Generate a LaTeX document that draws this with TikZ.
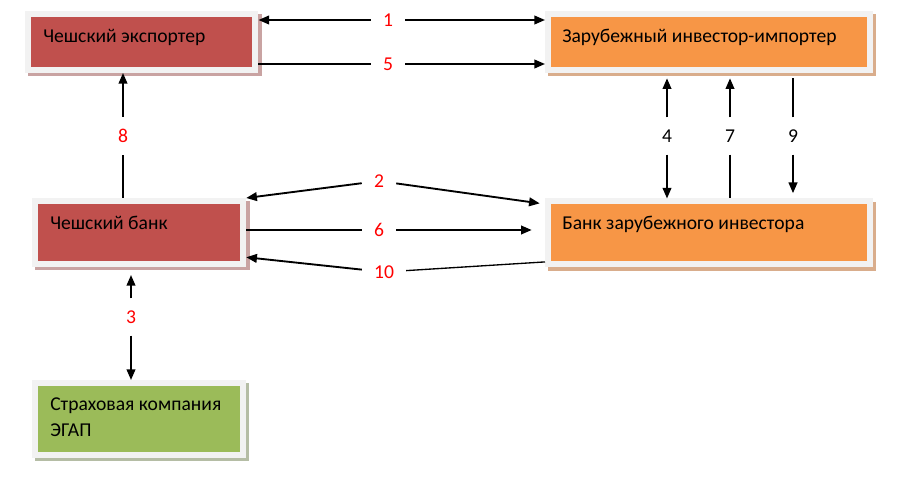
\documentclass[tikz,border=0pt]{standalone}
\usepackage{fontspec}
\setmainfont{Carlito}
\usetikzlibrary{arrows.meta,shadows}
\definecolor{boxred}{HTML}{C0504D}
\definecolor{boxorange}{HTML}{F79646}
\definecolor{boxgreen}{HTML}{9BBB59}
\definecolor{boxframe}{HTML}{F2F2F2}
\definecolor{shred}{HTML}{C9A3A2}
\definecolor{shorange}{HTML}{D9AD8C}
\definecolor{shgreen}{HTML}{B5BDA5}
\begin{document}
\begin{tikzpicture}[x=0.75pt,y=-0.75pt,
    boxshadow/.style={drop shadow={shadow xshift=2.5pt,shadow yshift=-2.5pt,fill=#1,draw=#1,opacity=1}},
    box/.style={draw=boxframe,line width=4.5pt,inner sep=0pt},
    redbox/.style={box,fill=boxred,boxshadow=shred},
    orangebox/.style={box,fill=boxorange,boxshadow=shorange},
    greenbox/.style={box,fill=boxgreen,boxshadow=shgreen},
    boxtext/.style={anchor=base west,inner sep=0pt,font=\fontsize{14.7}{19.5}\selectfont},
    num/.style={inner xsep=9pt,inner ysep=9pt,font=\fontsize{14.7}{16}\selectfont},
    rednum/.style={num,text=red},
    arr/.style={-{Triangle[length=8pt,width=6.5pt]},line width=1.4pt},
    plain/.style={line width=1pt}]
  \useasboundingbox (0,0) rectangle (900,477);
  \draw
    (141.75,42) node[redbox,minimum width=170.6pt,minimum height=42pt] (exp){}
    (709,42) node[orangebox,minimum width=241.5pt,minimum height=42pt] (imp){}
    (139,232.5) node[redbox,minimum width=156.4pt,minimum height=47.25pt] (cbank){}
    (709,233) node[orangebox,minimum width=241.5pt,minimum height=47.25pt] (fbank){}
    (138.5,419) node[greenbox,minimum width=156pt,minimum height=54pt] (egap){};
  \draw
    (43,43) node[boxtext] (texp){Чешский экспортер}
    (562,43) node[boxtext] (timp){Зарубежный инвестор-импортер}
    (50,229.5) node[boxtext] (tcbank){Чешский банк}
    (562,230) node[boxtext] (tfbank){Банк зарубежного инвестора}
    (50,436.7) node[boxtext,align=left] (tegap){Страховая компания\\ЭГАП};
  \draw
    (388,20) node[rednum] (l1){1}
    (379,181) node[rednum] (l2){2}
    (131,317) node[rednum] (l3){3}
    (667,136) node[num] (l4){4}
    (388,64) node[rednum] (l5){5}
    (379,230) node[rednum] (l6){6}
    (730,136) node[num] (l7){7}
    (123,136) node[rednum] (l8){8}
    (793,136) node[num] (l9){9}
    (384,272) node[rednum] (l10){10};
  \begin{scope}[arr]
    \draw (l1) to (l1 -| exp.east);
    \draw (l1) to (l1 -| imp.west);
    \draw (l2) to (cbank.north east);
    \draw[shorten >=4pt] (l2) to (fbank.170);
    \draw[shorten >=6pt] (l3) to (l3 |- cbank.south);
    \draw (l3) to (l3 |- egap.north);
    \draw[shorten >=4pt] (l4) to (l4 |- imp.south);
    \draw (l4) to (l4 |- fbank.north);
    \draw (l5) to (l5 -| imp.west);
    \draw[shorten >=10pt] (l6) to (l6 -| fbank.west);
    \draw[shorten >=4pt] (l7) to (l7 |- imp.south);
    \draw (l8) to (l8 |- exp.south);
    \draw[shorten >=4pt] (l9) to (l9 |- fbank.north);
    \draw (l10) to (cbank.-13);
  \end{scope}
  \begin{scope}[plain]
    \draw (l5) to (l5 -| exp.east);
    \draw (l6) to (l6 -| cbank.east);
    \draw (l7) to (l7 |- fbank.north);
    \draw (l8) to (l8 |- cbank.north);
    \draw[shorten >=4pt] (l9) to (l9 |- imp.south);
    \draw (l10) to (fbank.190);
  \end{scope}
\end{tikzpicture}
\end{document}
